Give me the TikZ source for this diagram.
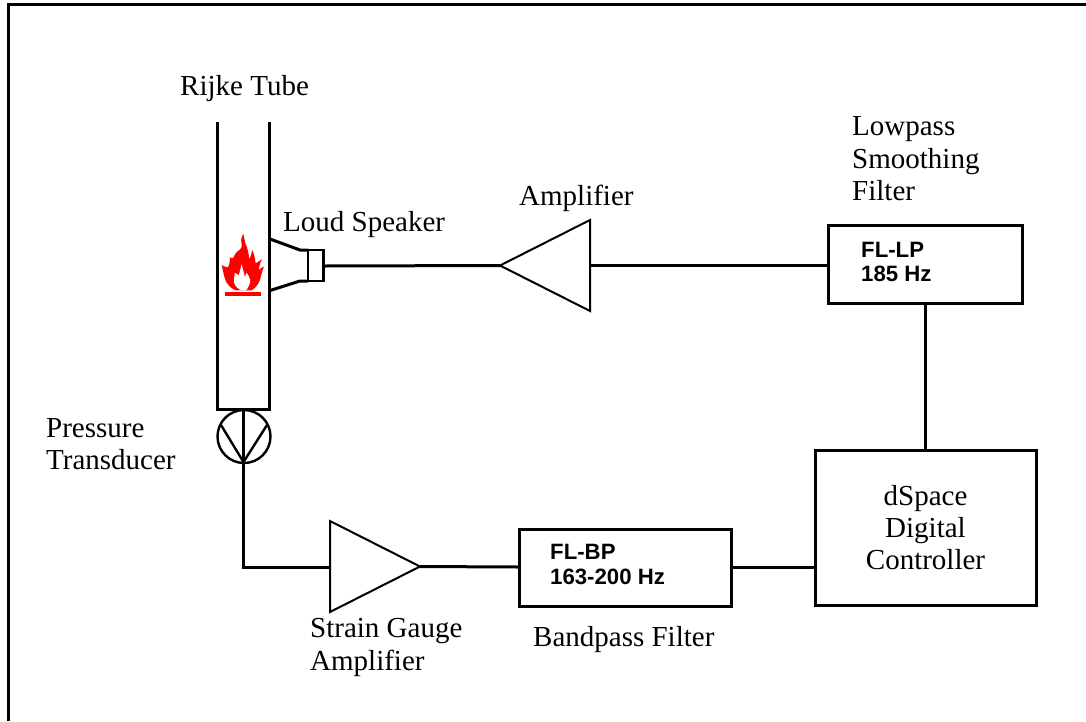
\documentclass[tikz,border=0pt]{standalone}
\usepackage{fontspec}
\setmainfont{Liberation Serif}
\newfontfamily\labelsans{Liberation Sans}
\definecolor{flamered}{RGB}{255,0,0}
\tikzset{
  wire/.style={draw=black,line width=3pt,line join=miter},
  thin part/.style={draw=black,line width=2pt,line join=miter},
  blockbox/.style={draw=black,line width=3pt,rectangle,inner sep=0pt,outer sep=0pt,anchor=north west},
  serif label/.style={anchor=base west,inner sep=0pt,font=\fontsize{29}{32}\selectfont},
  serif centre/.style={anchor=base,inner sep=0pt,font=\fontsize{29}{32}\selectfont},
  sans label/.style={anchor=base west,inner sep=0pt,font=\labelsans\bfseries\fontsize{22.2}{26}\selectfont},
}
\begin{document}
\begin{tikzpicture}[x=1pt,y=-1pt]
\useasboundingbox (0,0) rectangle (1086,721);
% frame
\coordinate (frameA) at (8,721);
\coordinate (frameB) at (8,4);
\coordinate (frameC) at (1086,4);
\draw[black,line width=3pt,line join=miter] (frameA) -- (frameB) -- (frameC);
% blocks
\node[blockbox,minimum width=194pt,minimum height=78pt] (lp) at (828,225) {};
\node[blockbox,minimum width=221pt,minimum height=155pt] (ctrl) at (815,450) {};
\node[blockbox,minimum width=212pt,minimum height=77pt] (bp) at (519,529) {};
% amplifier triangles
\coordinate (a1t) at (590,220); \coordinate (a1b) at (590,311); \coordinate (a1tip) at (500,265.5); \coordinate (a1in) at (590,265.5);
\draw[thin part] (a1t) -- (a1b) -- (a1tip) -- cycle;
\coordinate (a2t) at (330,521); \coordinate (a2b) at (330,612); \coordinate (a2tip) at (420,566.5); \coordinate (a2in) at (330,567);
\draw[thin part] (a2t) -- (a2b) -- (a2tip) -- cycle;
% tube
\coordinate (tl) at (217,122); \coordinate (tr) at (269,122);
\coordinate (bl) at (217,409); \coordinate (br) at (269,409);
\draw[wire] (tl) -- (bl) -- (br) -- (tr);
% transducer
\node[circle,draw=black,line width=2.4pt,minimum size=53pt,inner sep=0pt,outer sep=0pt] (pt) at (244,436.5) {};
\coordinate (vl) at (221,425); \coordinate (vr) at (267,425); \coordinate (vb) at (243.5,462);
\draw[thin part,line width=2.4pt] (vl) -- (vb) -- (vr);
\coordinate (vtop) at (243.5,409); \coordinate (corner) at (243.5,567);
\draw[wire] (vtop) -- (corner) -- (a2in);
% speaker
\coordinate (sa) at (270,239); \coordinate (sb) at (300,250); \coordinate (sc) at (308,250);
\coordinate (sd) at (270,290.5); \coordinate (se) at (300,281); \coordinate (sf) at (308,281);
\draw[wire] (sa) -- (sb) -- (sc);
\draw[wire] (sd) -- (se) -- (sf);
\node[draw=black,line width=2.6pt,rectangle,inner sep=0pt,outer sep=0pt,anchor=north west,minimum width=15.5pt,minimum height=31pt] (spk) at (308,250) {};
% wires
\draw[wire] (spk.east |- 0,266) -- (a1tip);
\draw[wire] (a1in) -- (lp.west |- a1in);
\draw[wire] (lp.south) -- (lp.south |- ctrl.north);
\draw[wire] (ctrl.west |- 0,567) -- (bp.east |- 0,567);
\draw[wire] (bp.west |- 0,567) -- (a2tip);
% flame
\begin{scope}[shift={(200,210)},x=0.3333pt,y=-0.3333pt]
\fill[flamered] (130,72) .. controls (122,85) and (122,95) .. (125,105)
  .. controls (128,118) and (112,122) .. (107,130)
  .. controls (100,140) and (102,150) .. (90,142)
  .. controls (90,152) and (88,165) .. (84,172)
  .. controls (78,172) and (70,168) .. (65,165)
  .. controls (70,185) and (72,205) .. (80,218)
  .. controls (88,230) and (98,238) .. (108,241)
  -- (155,241)
  .. controls (170,232) and (180,215) .. (183,198)
  .. controls (186,185) and (190,175) .. (192,170)
  .. controls (186,172) and (180,176) .. (176,180)
  .. controls (178,165) and (182,155) .. (186,148)
  .. controls (180,152) and (172,156) .. (167,160)
  .. controls (165,145) and (162,130) .. (157,120)
  .. controls (155,130) and (152,140) .. (148,148)
  .. controls (146,130) and (142,112) .. (136,100)
  .. controls (134,90) and (132,80) .. (130,72) -- cycle;
\fill[white] (125,163) .. controls (122,175) and (118,190) .. (116,196)
  .. controls (112,194) and (108,190) .. (104,188)
  .. controls (104,200) and (100,210) .. (102,218)
  .. controls (106,230) and (116,238) .. (124,241)
  -- (138,241)
  .. controls (146,232) and (152,218) .. (150,208)
  .. controls (148,200) and (144,194) .. (140,188)
  .. controls (138,194) and (136,198) .. (134,200)
  .. controls (132,188) and (128,175) .. (125,163) -- cycle;
\fill[flamered] (75,245) rectangle (182,258);
\end{scope}
% labels
\node[serif label] (t1) at (180,95) {Rijke Tube};
\node[serif label] (t2) at (283,231) {Loud Speaker};
\node[serif label] (t3) at (519,205) {Amplifier};
\node[serif label] (t4) at (852,135) {Lowpass};
\node[serif label] (t5) at (852,168) {Smoothing};
\node[serif label] (t6) at (852,200) {Filter};
\node[serif label] (t7) at (46,437) {Pressure};
\node[serif label] (t8) at (46,469) {Transducer};
\node[serif label] (t9) at (310,637) {Strain Gauge};
\node[serif label] (t10) at (310,670) {Amplifier};
\node[serif label] (t11) at (533,646) {Bandpass Filter};
\node[serif centre] (t12) at (925.5,505) {dSpace};
\node[serif centre] (t13) at (925.5,537) {Digital};
\node[serif centre] (t14) at (925.5,569) {Controller};
\node[sans label] (t15) at (861,257) {FL-LP};
\node[sans label] (t16) at (861,281) {185 Hz};
\node[sans label] (t17) at (550,559) {FL-BP};
\node[sans label] (t18) at (550,584) {163-200 Hz};
\end{tikzpicture}
\end{document}
